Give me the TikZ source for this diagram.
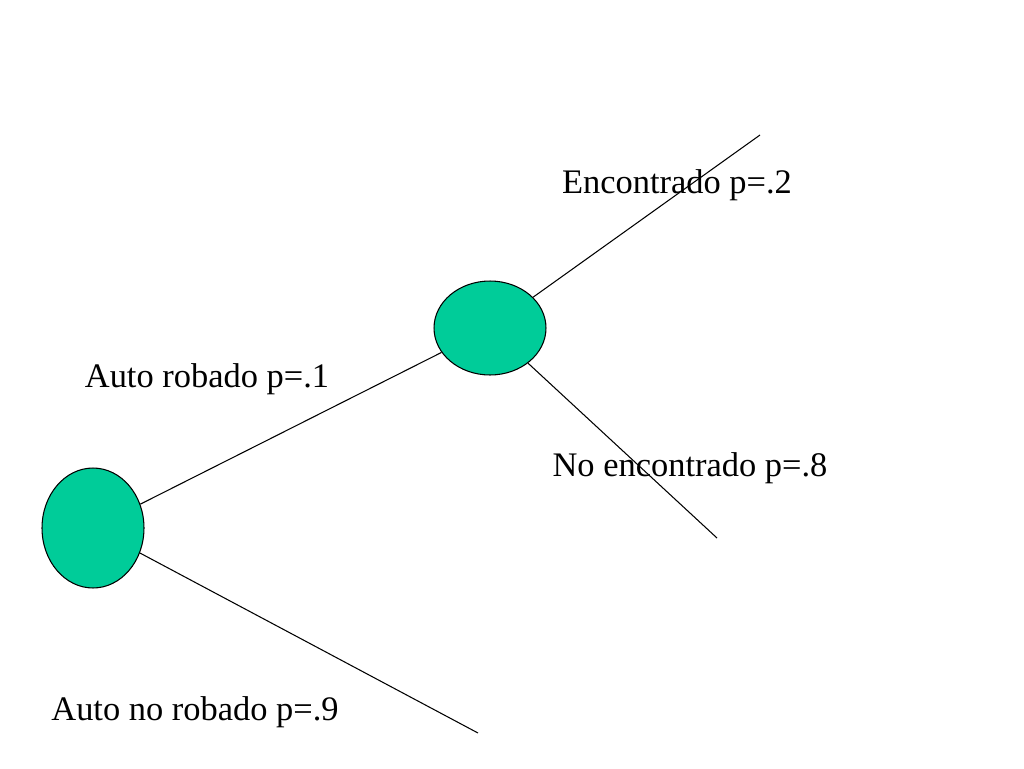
\documentclass[tikz,border=0pt]{standalone}
\usepackage{fontspec}
\setmainfont{Liberation Serif}
\usetikzlibrary{shapes.geometric}
\definecolor{chancegreen}{HTML}{00CC99}
\begin{document}
\begin{tikzpicture}[x=0.02cm, y=-0.02cm,
    chance/.style={ellipse, draw=black, fill=chancegreen, line width=0.6pt, inner sep=0pt},
    branch/.style={draw=black, line width=0.6pt},
    lbl/.style={font=\fontsize{19.6}{22}\selectfont}]
  \useasboundingbox (0,0) rectangle (1024,768);
  % labels
  \node[lbl] (tEnc) at (677,185) {Encontrado p=.2};
  \node[lbl] (tRob) at (207,379) {Auto robado p=.1};
  \node[lbl] (tNoEnc) at (690,468) {No encontrado p=.8};
  \node[lbl] (tNoRob) at (195,712) {Auto no robado p=.9};
  % nodes
  \node[chance, minimum width=2.04cm, minimum height=2.4cm] (root) at (93,528) {};
  \node[chance, minimum width=2.24cm, minimum height=1.88cm] (found) at (490,328) {};
  % free ends
  \coordinate (endEnc) at (760,135);
  \coordinate (endNoEnc) at (717,538);
  \coordinate (endNoRob) at (478,733);
  % branches
  \draw[branch] (root) -- (found);
  \draw[branch] (found) -- (endEnc);
  \draw[branch] (found) -- (endNoEnc);
  \draw[branch] (root) -- (endNoRob);
\end{tikzpicture}
\end{document}
